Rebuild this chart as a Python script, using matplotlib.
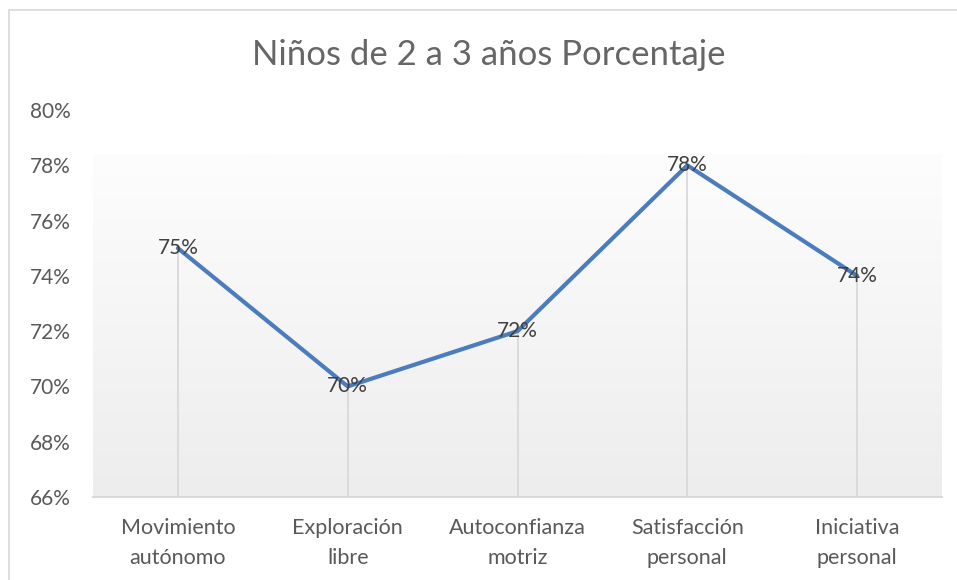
import matplotlib.pyplot as plt
import numpy as np
from matplotlib.patches import Rectangle
from matplotlib.ticker import FuncFormatter

plt.rcParams['font.family'] = ['Lato', 'DejaVu Sans']

categorias = ['Movimiento\nautónomo', 'Exploración\nlibre', 'Autoconfianza\nmotriz',
              'Satisfacción\npersonal', 'Iniciativa\npersonal']
porcentajes = [0.75, 0.70, 0.72, 0.78, 0.74]
etiquetas = ['75%', '70%', '72%', '78%', '74%']
ticks_y = [0.66, 0.68, 0.70, 0.72, 0.74, 0.76, 0.78, 0.80]

gris_texto = '#595959'
azul = '#4a7cbe'

fig = plt.figure(figsize=(9.57, 5.8), dpi=100)
ax = fig.add_axes([93 / 957, 1 - 497 / 580, (942 - 93) / 957, (497 - 110) / 580])

# marco del gráfico (borde gris claro)
fig.patches.append(Rectangle((9 / 957, -0.1), 1.2, 1 - 10 / 580 + 0.1,
                             transform=fig.transFigure, fill=False,
                             edgecolor='#d9d9d9', linewidth=1.2))

x = np.arange(len(categorias))
ax.set_xlim(-0.5, len(categorias) - 0.5)
ax.set_ylim(0.66, 0.80)

# fondo degradado del área de trazado
grad = np.linspace(0, 1, 256).reshape(-1, 1)
cmap = plt.matplotlib.colors.LinearSegmentedColormap.from_list('g', ['#ededed', '#fdfdfd'])
ax.imshow(grad, aspect='auto', cmap=cmap, origin='lower',
          extent=(-0.5, len(categorias) - 0.5, 0.66, 0.7838), zorder=0)

# líneas de proyección
ax.vlines(x, 0.66, porcentajes, color='#d9d9d9', linewidth=1.3, zorder=1)

ax.plot(x, porcentajes, color=azul, linewidth=3, solid_capstyle='round', zorder=3)

for xi, yi, et in zip(x, porcentajes, etiquetas):
    ax.text(xi, yi, et, ha='center', va='center', fontsize=15, color='#404040', zorder=4)

ax.set_xticks(x)
ax.set_xticklabels(categorias, fontsize=15.5, color=gris_texto, linespacing=1.65)
ax.set_yticks(ticks_y)
ax.yaxis.set_major_formatter(FuncFormatter(lambda v, p: f'{v * 100:.0f}%'))
ax.tick_params(axis='y', labelsize=15, labelcolor=gris_texto, length=0, pad=16)
ax.tick_params(axis='x', length=0, pad=15)

for lado in ['top', 'right', 'left']:
    ax.spines[lado].set_visible(False)
ax.spines['bottom'].set_color('#d9d9d9')
ax.spines['bottom'].set_linewidth(1.5)
ax.spines['bottom'].set_zorder(2)

fig.text(489 / 957, 1 - 55 / 580, 'Niños de 2 a 3 años Porcentaje', ha='center', va='center',
         fontsize=25, color='#666666')

fig.savefig('out.png', dpi=100)
